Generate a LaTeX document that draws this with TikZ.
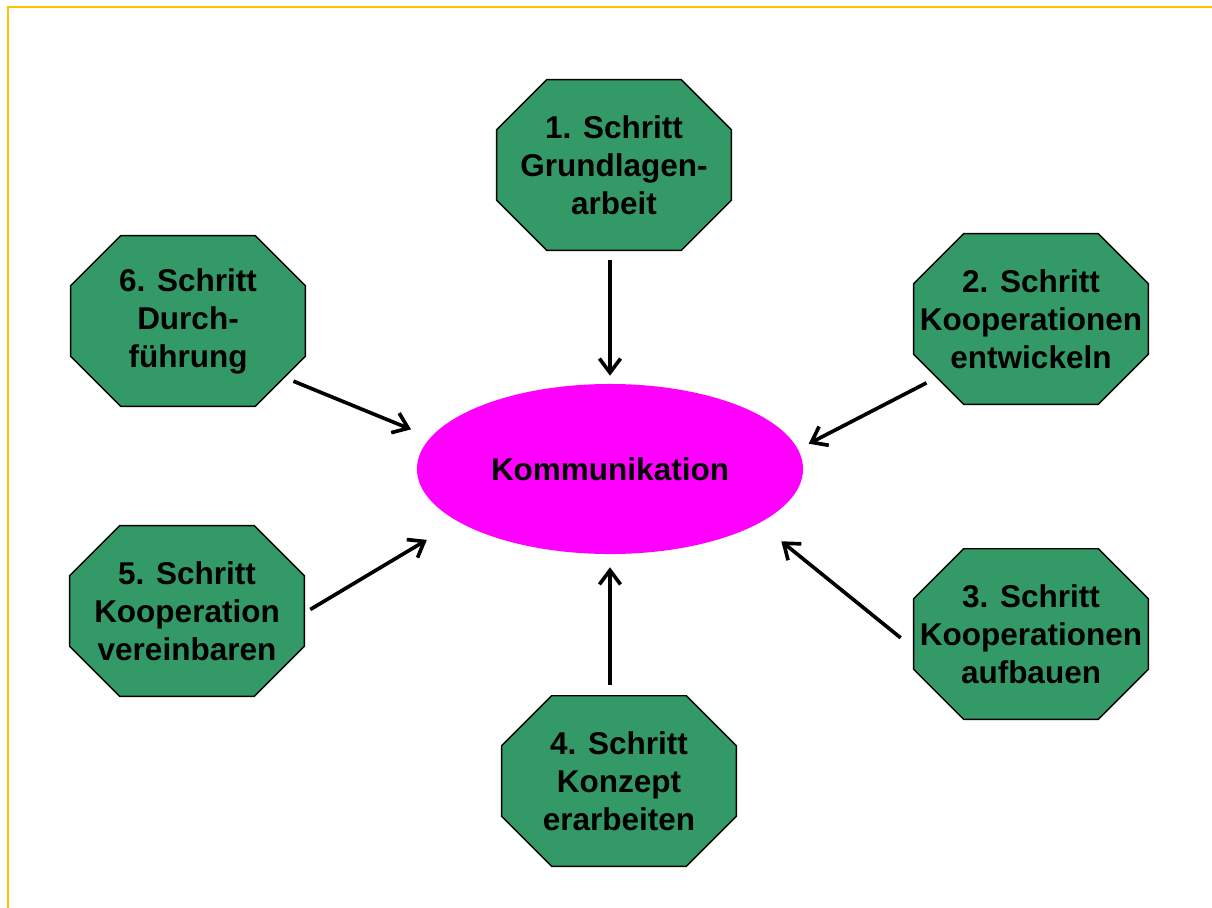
\documentclass[tikz,border=0pt]{standalone}
\usepackage{fontspec}
\setmainfont{Liberation Sans}
\usetikzlibrary{arrows.meta,shapes.geometric,backgrounds}

\definecolor{schrittgruen}{RGB}{51,153,102}
\definecolor{randorange}{RGB}{255,192,0}
\definecolor{kommagenta}{RGB}{255,0,255}

\begin{document}
\begin{tikzpicture}[x=0.025cm, y=-0.025cm,
		schritt/.style={rectangle, minimum width=5.85cm, minimum height=4.25cm,
			inner sep=0pt, align=center,
			font=\bfseries\fontsize{22.4pt}{27pt}\selectfont},
		achteck/.style={draw=black, line width=1pt, fill=schrittgruen},
		ablauf/.style={line width=2.6pt, -{Straight Barb[length=10pt,width=15pt]}}
	]

		\def\ecke{1.25cm} % cut of the octagon corners

		\useasboundingbox (0,0) rectangle (1212,908);

		% frame lines
		\draw[randorange, line width=1.8pt] (7,7) -- (1212,7);
		\draw[randorange, line width=1.6pt] (8,7) -- (8,908);

		% centre
		\node[ellipse, fill=kommagenta, minimum width=9.65cm, minimum height=4.25cm,
			font=\bfseries\fontsize{22.4pt}{27pt}\selectfont] (kom) at (610,469) {Kommunikation};

		% the six steps
		\node[schritt] (s1) at (614,165) {1. Schritt\\Grundlagen-\\arbeit};
		\node[schritt] (s2) at (1031,319) {2. Schritt\\Kooperationen\\entwickeln};
		\node[schritt] (s3) at (1031,634) {3. Schritt\\Kooperationen\\aufbauen};
		\node[schritt] (s4) at (619,781) {4. Schritt\\Konzept\\erarbeiten};
		\node[schritt] (s5) at (187,611) {5. Schritt\\Kooperation\\vereinbaren};
		\node[schritt] (s6) at (188,321) {6. Schritt\\Durch-\\führung};

		% octagons behind the step texts
		\begin{scope}[on background layer]
			\foreach \i in {1,...,6}
				\draw[achteck] ([xshift=\ecke]s\i.north west) -- ([xshift=-\ecke]s\i.north east)
					-- ([yshift=-\ecke]s\i.north east) -- ([yshift=\ecke]s\i.south east)
					-- ([xshift=-\ecke]s\i.south east) -- ([xshift=\ecke]s\i.south west)
					-- ([yshift=\ecke]s\i.south west) -- ([yshift=-\ecke]s\i.north west) -- cycle;
		\end{scope}

		% arrows into the centre
		\draw[ablauf, shorten <=0.25cm, shorten >=0.2cm] (s1.south -| kom.north) -- (kom.north);
		\draw[ablauf, shorten <=-0.36cm, shorten >=0.3cm] (s2.211.9) -- (kom.6.3);
		\draw[ablauf, shorten <=0.42cm, shorten >=0.715cm] (s3.187.1) -- (kom.-20);
		\draw[ablauf, shorten <=0.275cm, shorten >=0.325cm] (s4.north -| kom.south) -- (kom.south);
		\draw[ablauf, shorten <=0.175cm, shorten >=0.895cm] (s5.-1.3) -- (kom.199.3);
		\draw[ablauf, shorten <=-0.32cm, shorten >=0.525cm] (s6.-29.7) -- (kom.170.1);

	\end{tikzpicture}
\end{document}
